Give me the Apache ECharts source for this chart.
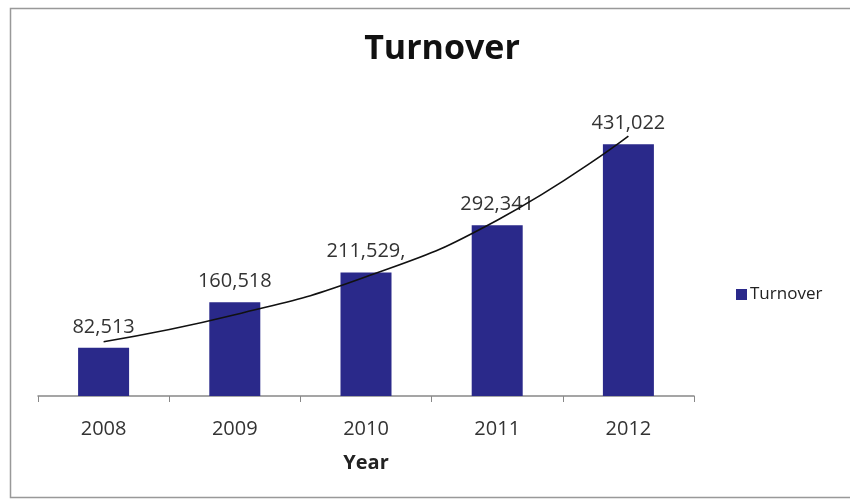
<!DOCTYPE html>
<html>
<head>
<meta charset="utf-8">
<script src="https://cdn.jsdelivr.net/npm/echarts@6/dist/echarts.min.js"></script>
<style>
  html, body { margin: 0; padding: 0; background: #fff; }
  #chart { width: 850px; height: 502px; }
</style>
</head>
<body>
<div id="chart"></div>
<script>
const years = ['2008', '2009', '2010', '2011', '2012'];
const turnover = [82513, 160518, 211529, 292341, 431022];
const turnoverLabels = ['82,513', '160,518', '211,529,', '292,341', '431,022'];
// trend line (exponential trend)
const trendValues = [93000, 139000, 204000, 301000, 445000];

const chart = echarts.init(document.getElementById('chart'));

const option = {
    backgroundColor: '#fff',
    textStyle: { fontFamily: 'Open Sans' },
    title: {
        text: 'Turnover',
        left: 437,
        textAlign: 'center',
        top: 27,
        textStyle: { fontSize: 34, fontWeight: 'bold', color: '#111', fontFamily: 'Open Sans' }
    },
    legend: {
        data: ['Turnover'],
        left: 731,
        top: 281,
        itemWidth: 11,
        itemHeight: 11,
        itemGap: 4,
        icon: 'rect',
        textStyle: { fontSize: 17, color: '#222', padding: [0, 0, 0, -2] }
    },
    graphic: [{
        type: 'rect',
        shape: { x: 10.5, y: 8.5, width: 850, height: 489 },
        style: { fill: 'none', stroke: '#999', lineWidth: 1.5 },
        silent: true
    }],
    grid: { left: 38, right: 156, top: 104, bottom: 106 },
    xAxis: {
        type: 'category',
        data: years,
        name: 'Year',
        nameLocation: 'middle',
        nameGap: 57,
        nameTextStyle: { fontSize: 20, fontWeight: 'bold', color: '#222' },
        axisLine: { lineStyle: { color: '#888', width: 1.5 } },
        axisTick: { show: true, length: 6, lineStyle: { color: '#888' } },
        axisLabel: { fontSize: 20, color: '#333', margin: 23 }
    },
    yAxis: {
        type: 'value',
        min: 0,
        max: 500000,
        show: false,
        splitLine: { show: false }
    },
    series: [
        {
            name: 'Turnover',
            type: 'bar',
            data: turnover,
            barWidth: 51,
            itemStyle: { color: '#2a298a' },
            label: {
                show: true,
                position: 'top',
                distance: 11,
                fontSize: 20,
                color: '#333',
                formatter: function (p) { return turnoverLabels[p.dataIndex]; }
            },
            z: 2
        },
        {
            name: 'Trend',
            type: 'line',
            data: trendValues,
            smooth: true,
            symbol: 'none',
            lineStyle: { color: '#111', width: 1.6 },
            z: 3
        }
    ]
};

chart.setOption(option);
</script>
</body>
</html>
